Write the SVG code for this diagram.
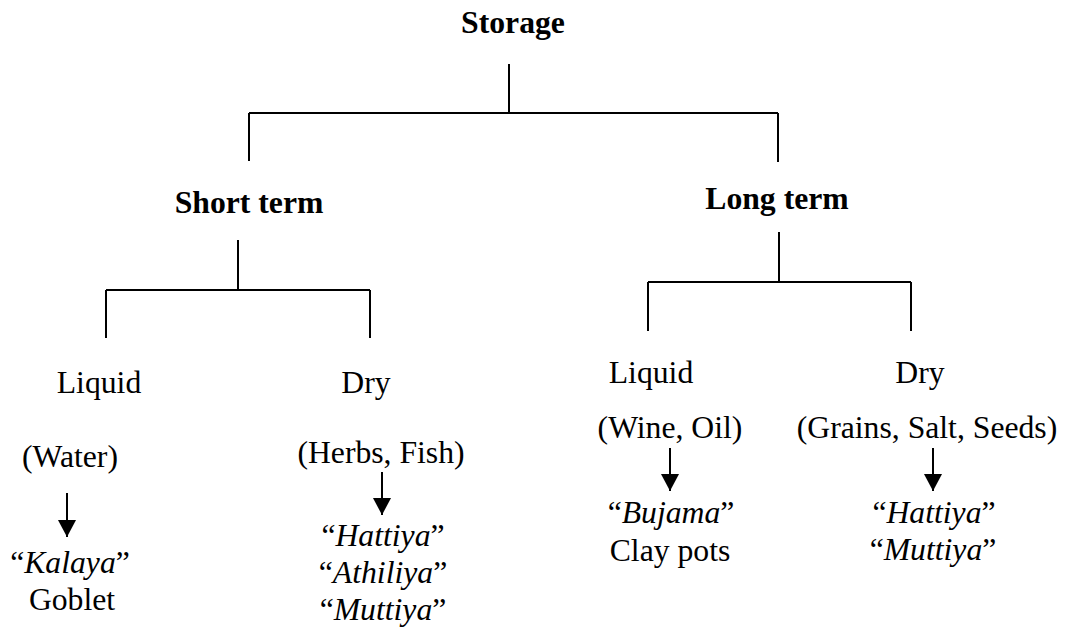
<svg xmlns="http://www.w3.org/2000/svg" width="1069" height="629" viewBox="0 0 1069 629">
<style>
.b{font-weight:bold}
.i{font-style:italic}
.ln{stroke:#000;stroke-width:2;fill:none}
</style>
<defs>
<marker id="ah" markerUnits="userSpaceOnUse" markerWidth="18" markerHeight="18" viewBox="0 0 18 18" refX="17" refY="9" orient="auto">
<path d="M0,0 L17,9 L0,18 Z" fill="#000"/>
</marker>
</defs>
<rect width="1069" height="629" fill="#fff"/>
<g id="connectors" class="ln">
<path d="M509,64 V113 M249,113 H778 M249,113 V161 M778,113 V162"/>
<path d="M238,240 V290 M106,290 H370 M106,290 V338 M370,290 V338"/>
<path d="M779,232 V282 M648,282 H911 M648,282 V331 M911,282 V331"/>
<line x1="67" y1="493" x2="67" y2="537" marker-end="url(#ah)"/>
<line x1="382" y1="472" x2="382" y2="515" marker-end="url(#ah)"/>
<line x1="670" y1="448" x2="670" y2="491" marker-end="url(#ah)"/>
<line x1="933" y1="448" x2="933" y2="491" marker-end="url(#ah)"/>
</g>
<g font-family="Liberation Serif" font-size="31.7" fill="#000" text-anchor="middle">
<g id="storage"><text class="b" x="513" y="33">Storage</text></g>
<g id="short-term"><text class="b" x="249" y="213">Short term</text></g>
<g id="long-term"><text class="b" x="777" y="209">Long term</text></g>
<g id="st-liquid">
<text x="99" y="393">Liquid</text>
<text x="70" y="467">(Water)</text>
<text x="70" y="573">“<tspan class="i">Kalaya</tspan>”</text>
<text x="72" y="610">Goblet</text>
</g>
<g id="st-dry">
<text x="366" y="393">Dry</text>
<text x="381" y="463">(Herbs, Fish)</text>
<text x="383" y="546">“<tspan class="i">Hattiya</tspan>”</text>
<text x="383" y="583">“<tspan class="i">Athiliya</tspan>”</text>
<text x="383" y="620">“<tspan class="i">Muttiya</tspan>”</text>
</g>
<g id="lt-liquid">
<text x="651" y="383">Liquid</text>
<text x="670" y="438">(Wine, Oil)</text>
<text x="671" y="523">“<tspan class="i">Bujama</tspan>”</text>
<text x="670" y="561">Clay pots</text>
</g>
<g id="lt-dry">
<text x="920" y="383">Dry</text>
<text x="927" y="438">(Grains, Salt, Seeds)</text>
<text x="934" y="523">“<tspan class="i">Hattiya</tspan>”</text>
<text x="933" y="560">“<tspan class="i">Muttiya</tspan>”</text>
</g>
</g>
</svg>
